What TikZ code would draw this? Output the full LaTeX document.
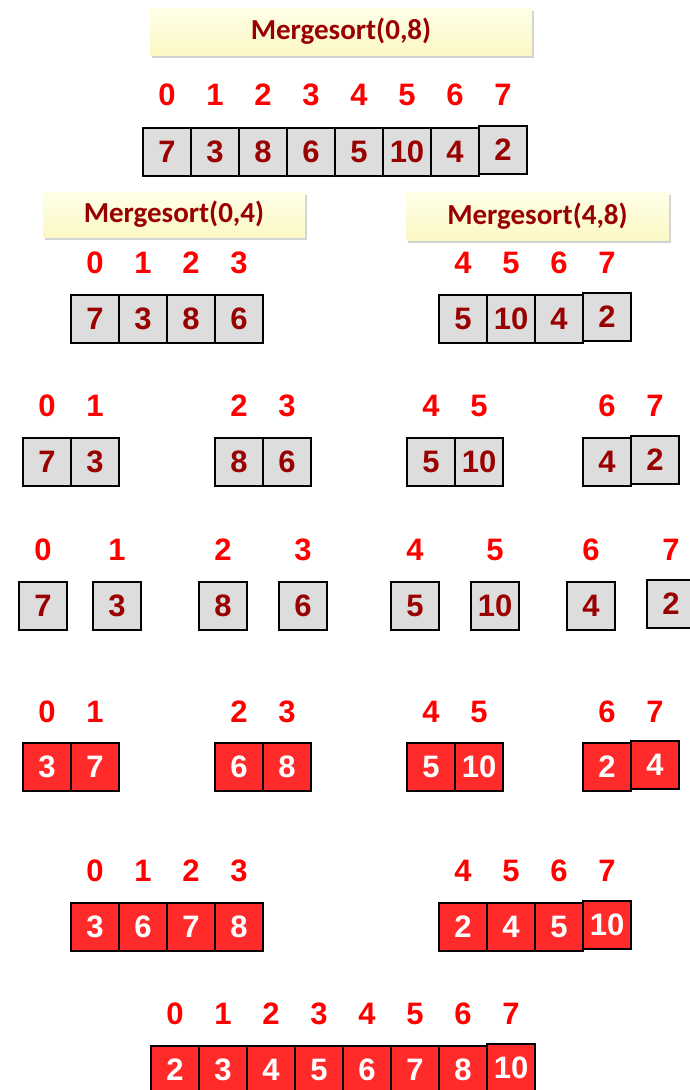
\documentclass[tikz,border=0pt]{standalone}
\usepackage{fontspec}
\setmainfont{Liberation Sans}
\newfontfamily\calfont{Carlito}
\usetikzlibrary{shadows}
\definecolor{dred}{HTML}{990000}
\definecolor{ired}{HTML}{FF0000}
\definecolor{cred}{HTML}{FF2B2B}
\definecolor{cgrey}{HTML}{DDDDDD}
\definecolor{ylwtop}{HTML}{FFFFE8}
\definecolor{ylwbot}{HTML}{FBF8C4}
\begin{document}
\begin{tikzpicture}[x=1pt,y=-1pt,
  cellbase/.style={draw=black,line width=1.5pt,minimum width=48pt,minimum height=48pt,inner sep=0pt,
    font=\fontsize{31}{31}\selectfont\bfseries},
  gcell/.style={cellbase,fill=cgrey,text=dred},
  rcell/.style={cellbase,fill=cred,text=white},
  lastcell/.style={yshift=2pt},
  idx/.style={text=ired,inner sep=0pt,font=\fontsize{31}{31}\selectfont\bfseries},
  titlebox/.style={top color=ylwtop,bottom color=ylwbot,draw=none,inner sep=0pt,
    drop shadow={opacity=0.35,shadow xshift=2pt,shadow yshift=-3pt},
    text=dred,font=\calfont\bfseries\fontsize{29}{29}\selectfont}]
\useasboundingbox (0,0) rectangle (690,1090);
\fill[white] (0,0) rectangle (690,1090);

% titles
\node[titlebox,minimum width=382pt,minimum height=47pt] (t08) at (341,31.5) {Mergesort(0,8)};
\node[titlebox,minimum width=262pt,minimum height=45pt] (t04) at (174,214.5) {Mergesort(0,4)};
\node[titlebox,minimum width=263pt,minimum height=48pt] (t48) at (537.5,216) {Mergesort(4,8)};

% row 1
\foreach \i in {0,...,7} \node[idx] (ia\i) at ({167+48*\i},95) {\i};
\foreach \v [count=\i from 0] in {7,3,8,6,5,10,4} \node[gcell] (a\i) at ({167+48*\i},152) {\v};
\node[gcell,lastcell] (a7) at (503,152) {2};

% row 2
\foreach \i in {0,...,3} \node[idx] (ib\i) at ({95+48*\i},263) {\i};
\foreach \i in {4,...,7} \node[idx] (ib\i) at ({271+48*\i},263) {\i};
\foreach \v [count=\i from 0] in {7,3,8,6} \node[gcell] (b\i) at ({95+48*\i},319) {\v};
\foreach \v [count=\i from 4] in {5,10,4} \node[gcell] (b\i) at ({271+48*\i},319) {\v};
\node[gcell,lastcell] (b7) at (607,319) {2};

% row 3
\foreach \i/\x in {0/47,1/95,2/239,3/287,4/431,5/479,6/607,7/655} \node[idx] (ic\i) at (\x,406) {\i};
\foreach \i/\x/\v in {0/47/7,1/95/3,2/239/8,3/287/6,4/431/5,5/479/10,6/607/4} \node[gcell] (c\i) at (\x,462) {\v};
\node[gcell,lastcell] (c7) at (655,462) {2};

% row 4
\foreach \i/\x in {0/43,1/117,2/223,3/303,4/415,5/495,6/591,7/671} \node[idx] (id\i) at (\x,550) {\i};
\foreach \i/\x/\v in {0/43/7,1/117/3,2/223/8,3/303/6,4/415/5,5/495/10,6/591/4} \node[gcell] (d\i) at (\x,606) {\v};
\node[gcell,lastcell] (d7) at (671,606) {2};

% row 5
\foreach \i/\x in {0/47,1/95,2/239,3/287,4/431,5/479,6/607,7/655} \node[idx] (ie\i) at (\x,712) {\i};
\foreach \i/\x/\v in {0/47/3,1/95/7,2/239/6,3/287/8,4/431/5,5/479/10,6/607/2} \node[rcell] (e\i) at (\x,767) {\v};
\node[rcell,lastcell] (e7) at (655,767) {4};

% row 6
\foreach \i in {0,...,3} \node[idx] (if\i) at ({95+48*\i},871) {\i};
\foreach \i in {4,...,7} \node[idx] (if\i) at ({271+48*\i},871) {\i};
\foreach \v [count=\i from 0] in {3,6,7,8} \node[rcell] (f\i) at ({95+48*\i},927) {\v};
\foreach \v [count=\i from 4] in {2,4,5} \node[rcell] (f\i) at ({271+48*\i},927) {\v};
\node[rcell,lastcell] (f7) at (607,927) {10};

% row 7
\foreach \i in {0,...,7} \node[idx] (ig\i) at ({175+48*\i},1014) {\i};
\foreach \v [count=\i from 0] in {2,3,4,5,6,7,8} \node[rcell] (g\i) at ({175+48*\i},1070) {\v};
\node[rcell,lastcell] (g7) at (511,1070) {10};
\end{tikzpicture}
\end{document}
